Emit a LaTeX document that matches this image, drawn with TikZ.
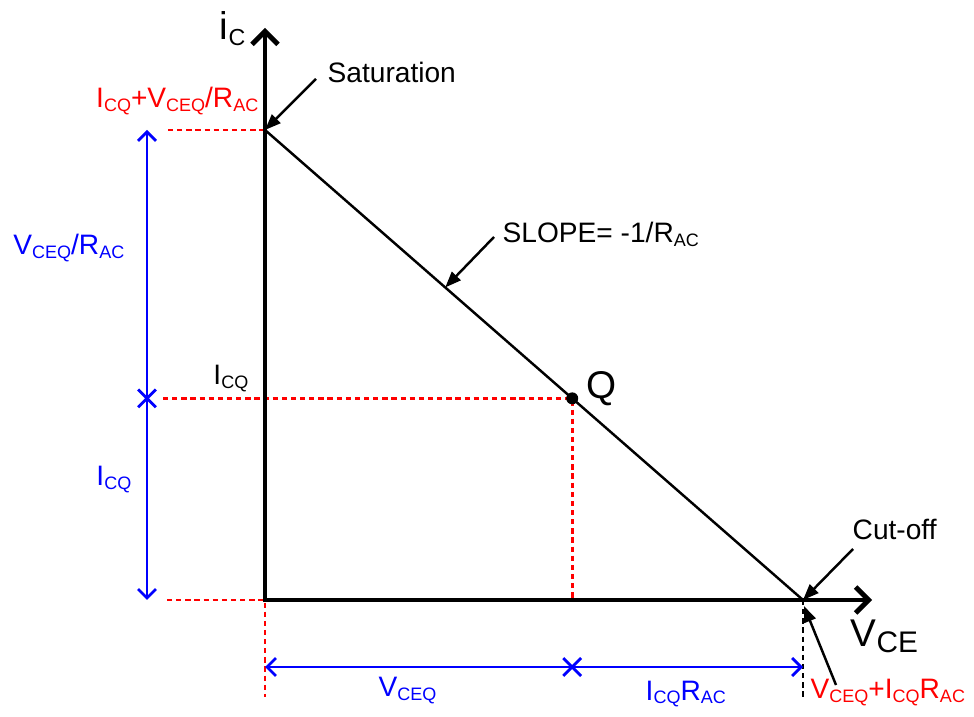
\documentclass[tikz,border=0pt]{standalone}
\usepackage{fontspec}
\setmainfont{Liberation Sans}
\usepackage{tikz}
\usetikzlibrary{arrows.meta, positioning, calc, shapes.misc}
\definecolor{myred}{RGB}{255,0,0}
\definecolor{myblue}{RGB}{0,0,255}
\newcommand{\sub}[2][0.64]{\raisebox{-0.13em}{\scalebox{#1}{#2}}}
\tikzset{
  axis/.style={line width=1.4pt, line join=miter,
    {Straight Barb[length=1.3mm, width=2.6mm]}-{Straight Barb[length=1.3mm, width=2.6mm]}},
  loadline/.style={line width=0.7pt},
  guide/.style={myred, line width=0.8pt, dash pattern=on 1.5pt off 1.1pt},
  cutguide/.style={black, line width=0.8pt, dash pattern=on 1.5pt off 1.1pt},
  dimline/.style={myblue, line width=0.8pt,
    {Straight Barb[length=0.9mm, width=1.8mm]}-{Straight Barb[length=0.9mm, width=1.8mm]}},
  tick/.style={cross out, draw=myblue, line width=0.8pt,
    minimum size=1.5mm, inner sep=0pt},
  callout/.style={line width=0.7pt, -{Triangle[length=1.6mm, width=1.2mm]}},
  lbl/.style={font=\fontsize{8}{10}\selectfont, inner sep=0pt},
  biglbl/.style={font=\fontsize{11}{13}\selectfont, inner sep=0pt}
}
\begin{document}
\begin{tikzpicture}
  \useasboundingbox (-2.65,-1.17) rectangle (7.09,6.00);

  % Key points
  \coordinate (O) at (0,0);
  \coordinate (S) at (0,4.70);
  \coordinate (C) at (5.38,0);
  \coordinate (Q) at ($(S)!0.571!(C)$);
  \coordinate (Qx) at (Q |- O);
  \coordinate (ytop) at (0,5.72);
  \coordinate (xend) at (6.07,0);

  % Red guides
  \coordinate (gs) at (-0.97,4.70);
  \coordinate (gqa) at (-1.02,0);
  \coordinate (gq) at (gqa |- Q);
  \coordinate (go) at (-0.98,0);
  \coordinate (gd) at (0,-0.97);
  \coordinate (gc) at (5.38,-0.97);
  \draw[guide] (gs) -- (S);
  \draw[guide] (gq) -- (Q) -- (Qx);
  \draw[guide] (go) -- (O) -- (gd);
  \draw[cutguide] (C) -- (gc);

  % Axes
  \draw[axis] (ytop) -- (O) -- (xend);
  \node[biglbl, anchor=base east] (ic) at (-0.19,5.60) {i\sub[0.6]{C}};
  \node[biglbl, anchor=base west] (vce) at (5.85,-0.47) {V\sub[0.77]{CE}};

  % Load line and Q point
  \draw[loadline] (S) -- (C);
  \fill (Q) circle (0.06);
  \node[biglbl, anchor=base west] (qlbl) at (3.21,2.01) {Q};

  % Vertical dimension
  \coordinate (dtop) at (-1.18,4.70);
  \coordinate (dbot) at (-1.18,0);
  \draw[dimline] (dtop) -- (dbot);
  \node[tick] (dmid) at (dtop |- Q) {};
  \node[lbl, myblue, anchor=base east] (vrac) at (-1.40,3.45) {V\sub{CEQ}/R\sub{AC}};
  \node[lbl, myblue, anchor=base east] (icq) at (-1.33,1.14) {I\sub{CQ}};

  % Horizontal dimension
  \coordinate (hl) at (0,-0.67);
  \coordinate (hr) at (5.38,-0.67);
  \draw[dimline] (hl) -- (hr);
  \node[tick] (hmid) at (Q |- hl) {};
  \node[lbl, myblue, anchor=base west] (vceq) at (1.13,-0.97) {V\sub{CEQ}};
  \node[lbl, myblue, anchor=base west] (icqr) at (3.80,-1.00) {I\sub{CQ}R\sub{AC}};

  % Axis values
  \node[lbl, anchor=base east] (icqv) at (-0.16,2.15) {I\sub{CQ}};
  \node[lbl, myred, anchor=base east] (isat) at (-0.06,4.92)
    {I\sub{CQ}+V\sub{CEQ}/R\sub{AC}};
  \node[lbl, myred, anchor=base west] (vcut) at (5.45,-0.99)
    {V\sub{CEQ}+I\sub{CQ}R\sub{AC}};

  % Callouts
  \node[lbl, anchor=base west] (sat) at (0.62,5.17) {Saturation};
  \node[lbl, anchor=base west] (cut) at (5.87,0.60) {Cut-off};
  \node[lbl, anchor=base west] (slope) at (2.37,3.57) {SLOPE= -1/R\sub{AC}};
  \coordinate (satTail) at (0.51,5.21);
  \coordinate (cutTail) at (5.88,0.51);
  \coordinate (sumTail) at (5.71,-0.85);
  \coordinate (sumTip) at (5.39,-0.06);
  \coordinate (slopeTail) at (2.29,3.63);
  \coordinate (slopeTip) at ($(S)!0.335!(C)$);
  \draw[callout] (satTail) -- (S);
  \draw[callout] (cutTail) -- (C);
  \draw[callout] (sumTail) -- (sumTip);
  \draw[callout] (slopeTail) -- (slopeTip);
\end{tikzpicture}
\end{document}
